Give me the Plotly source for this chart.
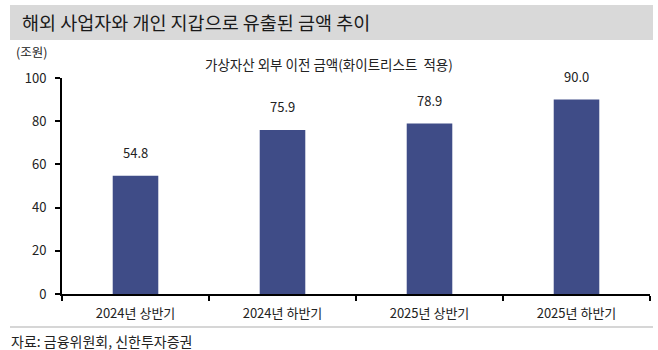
import plotly.graph_objects as go

# 가상자산 외부 이전 금액 (조원)
periods = ["2024년 상반기", "2024년 하반기", "2025년 상반기", "2025년 하반기"]
amounts = [54.8, 75.9, 78.9, 90.0]
y_ticks = [0, 20, 40, 60, 80, 100]

FONT = "Noto Sans CJK KR"
BAR_COLOR = "#3F4C87"


def px_x(p):
    return (p - 62) / 588


def px_y(p):
    return (294 - p) / 216


fig = go.Figure()
fig.add_trace(go.Bar(
    x=periods,
    y=amounts,
    width=0.31,
    marker=dict(color=BAR_COLOR, line=dict(width=0)),
))

# value labels above each bar
value_labels = [
    dict(text=f"{v:.1f}", x=c, y=v, xref="x", yref="y",
         xanchor="center", yanchor="bottom", yshift=12, showarrow=False,
         font=dict(family=FONT, size=13, color="#222222"))
    for c, v in zip(periods, amounts)
]

fig.update_layout(
    width=658,
    height=350,
    margin=dict(l=62, r=8, t=78, b=56),
    paper_bgcolor="white",
    plot_bgcolor="white",
    showlegend=False,
    font=dict(family=FONT, color="#222222"),
    xaxis=dict(
        type="category",
        tickson="boundaries",
        ticks="outside",
        ticklen=5,
        tickwidth=1.5,
        tickcolor="black",
        showline=True,
        linecolor="black",
        linewidth=2,
        showgrid=False,
        tickfont=dict(family=FONT, size=13, color="#222222"),
        ticklabelstandoff=6,
    ),
    yaxis=dict(
        range=[0, 100],
        tickvals=y_ticks,
        ticks="outside",
        ticklen=5,
        tickwidth=1.5,
        tickcolor="black",
        showline=True,
        linecolor="black",
        linewidth=2,
        showgrid=False,
        zeroline=False,
        tickfont=dict(family=FONT, size=13, color="#222222"),
        ticklabelstandoff=6,
    ),
    shapes=[
        # title band
        dict(type="rect", xref="paper", yref="paper",
             x0=px_x(10), x1=px_x(653), y0=px_y(40), y1=px_y(5),
             fillcolor="#D9D9D9", line=dict(width=0), layer="below"),
        # separator above source line
        dict(type="line", xref="paper", yref="paper",
             x0=px_x(10), x1=px_x(653), y0=px_y(327), y1=px_y(327),
             line=dict(color="#C8C8C8", width=1.5)),
    ],
    annotations=value_labels + [
        dict(text="해외 사업자와 개인 지갑으로 유출된 금액 추이",
             xref="paper", yref="paper", x=px_x(20), y=px_y(22),
             xanchor="left", yanchor="middle", showarrow=False,
             font=dict(family=FONT, size=18.5, color="#1A1A1A")),
        dict(text="(조원)",
             xref="paper", yref="paper", x=px_x(14), y=px_y(51),
             xanchor="left", yanchor="middle", showarrow=False,
             font=dict(family=FONT, size=12.5, color="#222222")),
        dict(text="가상자산 외부 이전 금액(화이트리스트  적용)",
             xref="paper", yref="paper", x=px_x(329), y=px_y(64),
             xanchor="center", yanchor="middle", showarrow=False,
             font=dict(family=FONT, size=13.5, color="#222222")),
        dict(text="자료: 금융위원회, 신한투자증권",
             xref="paper", yref="paper", x=px_x(9), y=px_y(341),
             xanchor="left", yanchor="middle", showarrow=False,
             font=dict(family=FONT, size=14, color="#222222")),
    ],
)

fig.write_html("out.html")
